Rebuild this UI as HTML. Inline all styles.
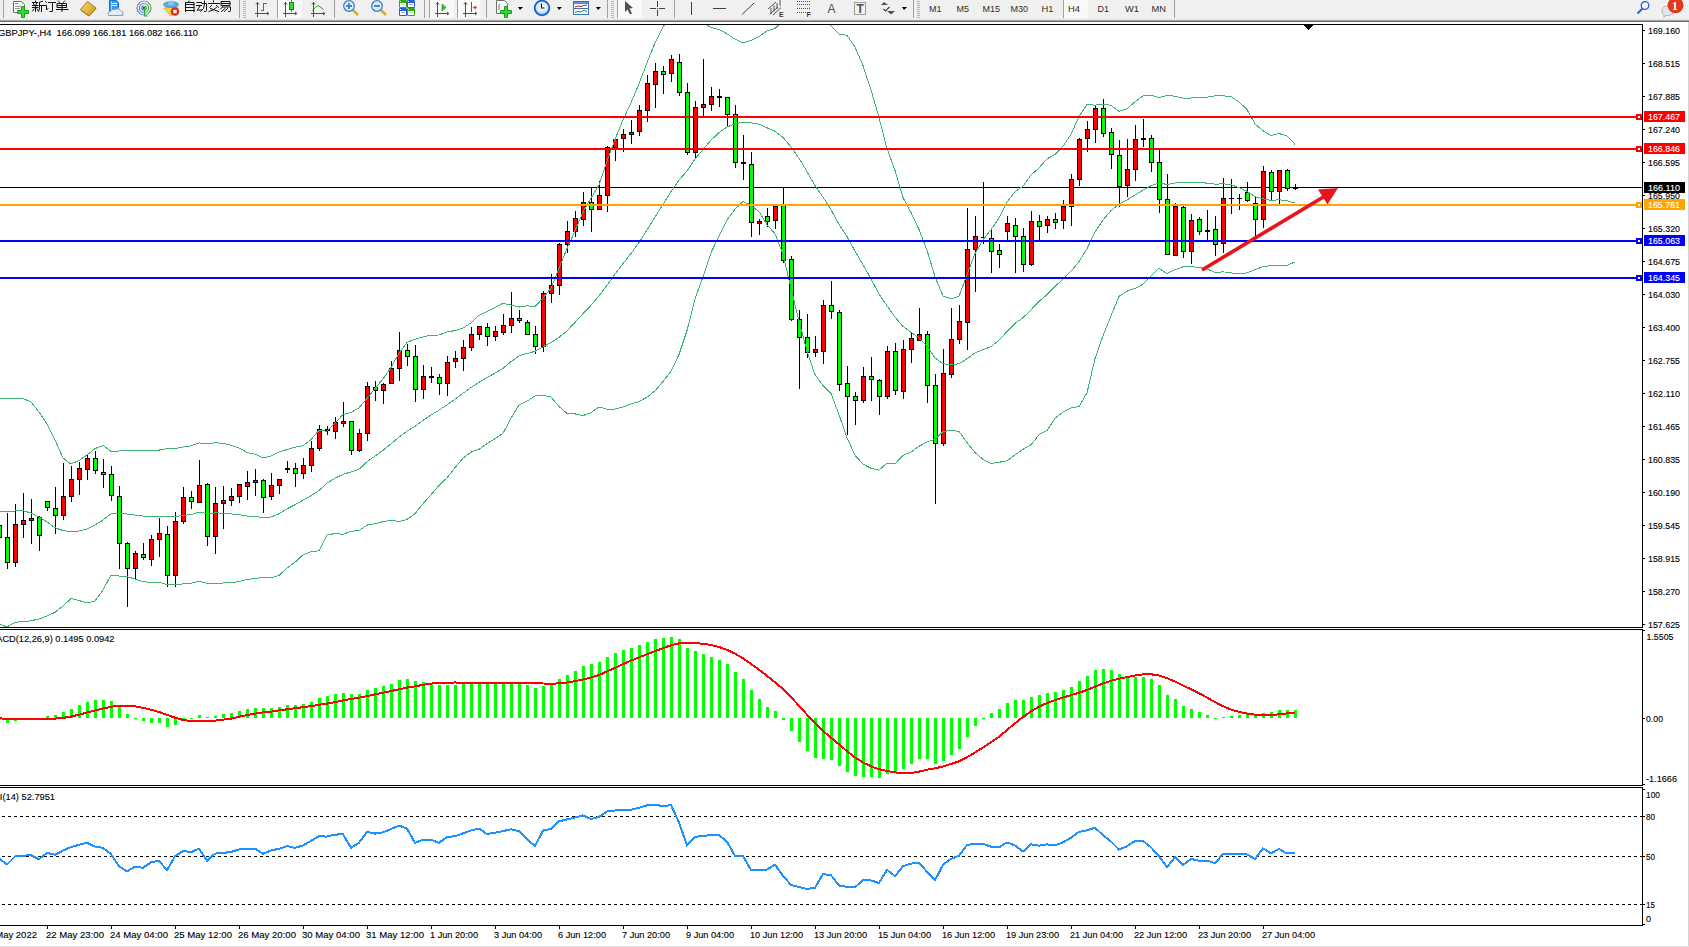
<!DOCTYPE html>
<html><head><meta charset="utf-8"><style>
html,body{margin:0;padding:0;width:1689px;height:947px;overflow:hidden;background:#fff;font-family:"Liberation Sans",sans-serif}
</style></head><body>
<svg width="1689" height="22" style="position:absolute;left:0;top:0" font-family='"Liberation Sans", sans-serif'><rect x="0" y="0" width="1689" height="19" fill="#F0F0F0"/><rect x="0" y="19" width="1689" height="1" fill="#E4E4E4"/><rect x="0" y="20" width="1689" height="1" fill="#A8A8A8"/><rect x="0" y="21" width="1689" height="1" fill="#6E6E6E"/><rect x="3" y="0" width="1" height="18" fill="#A0A0A0"/><path d="M13.5,1.5 h8 l3,3 v8 h-11 z" fill="#FAFAFA" stroke="#6E6E6E" stroke-width="1"/><rect x="15" y="3" width="3" height="1" fill="#888"/><rect x="15" y="6" width="6" height="1" fill="#999"/><rect x="15" y="8" width="5" height="1" fill="#999"/><path d="M21.5,6.5 h3 v4 h4 v3 h-4 v4 h-3 v-4 h-4 v-3 h4 z" fill="#2BE02B" stroke="#139013" stroke-width="0.9"/><g stroke="#111" stroke-width="1" fill="none" stroke-linecap="square"><path d="M35.5,1 v1 M32.5,2.5 h5 M33.5,3.5 l0.6,1.2 M36.6,3.5 l-0.6,1.2 M32.5,5.5 h5.5 M32.5,7.5 h5.5 M35.5,5.5 v6 M34,9 l-1.5,2 M37,9 l1,1.5"/><path d="M42.5,1.3 l-3,1 M39.5,2.5 v5 q0,3 -1,4 M39.5,5.5 h4 M41.5,5.5 v6"/><path d="M45.5,1.5 l1,1 M44.5,5.5 h2 v4.5 l1.5,-1.5 M48.5,2.5 h7 M52.5,2.5 v8.5 q0,0.5 -0.5,0.5 h-2"/><path d="M58.5,1 l1,1.3 M64.5,1 l-1,1.3 M57.5,3.5 h9 v4 h-9 z M57.5,5.5 h9 M62,3.5 v8 M56.5,9.5 h11.5"/></g><defs><linearGradient id="gld" x1="0" y1="0" x2="1" y2="1"><stop offset="0" stop-color="#F6DC6A"/><stop offset="1" stop-color="#C89A1C"/></linearGradient></defs><path d="M80.5,9.5 l7,-8 l8.5,6.5 l-7,8 z" fill="url(#gld)" stroke="#9A6A12" stroke-width="0.9"/><path d="M81.5,11 l7.5,5 l7,-7.5" fill="none" stroke="#B07818" stroke-width="1"/><path d="M109.5,0.5 h7 l2,2 v9 h-9 z" fill="#3C9BEA" stroke="#1E6FC0" stroke-width="1"/><rect x="112" y="3" width="5" height="1" fill="#E8F4FF"/><rect x="112" y="5" width="5" height="1" fill="#E8F4FF"/><rect x="111" y="1" width="1" height="9" fill="#9ED0FF"/><path d="M108.5,15.5 q-2,-3.5 2,-4 q1,-3 4.5,-2 q3,-2.5 5.5,1 q3,0.5 2.5,5 z" fill="#E6ECF4" stroke="#7E94B4" stroke-width="0.9"/><defs><linearGradient id="rad" x1="0" y1="0" x2="1" y2="0"><stop offset="0" stop-color="#4A7CD0"/><stop offset="0.55" stop-color="#8CB4E0"/><stop offset="1" stop-color="#3AA03A"/></linearGradient></defs><g fill="none" stroke="url(#rad)" stroke-width="1.1"><circle cx="144" cy="8" r="7"/><circle cx="144" cy="8" r="4.6"/><circle cx="144" cy="8" r="2.3"/></g><circle cx="144" cy="8" r="1.5" fill="#2456B0"/><path d="M144.5,8 v8 h3" stroke="#2EA82E" stroke-width="1.2" fill="none"/><path d="M164,8 l7,8 l5,-3 l2,-6 z" fill="#F2D64A" stroke="#C9A820" stroke-width="0.8"/><ellipse cx="171" cy="4.5" rx="7.5" ry="2.8" fill="#5BB0E0" stroke="#3A88C0" stroke-width="0.8"/><ellipse cx="171" cy="3" rx="3" ry="2.6" fill="#7CC8F0"/><circle cx="175" cy="11.5" r="4.3" fill="#E02A1A"/><rect x="173.3" y="9.8" width="3.4" height="3.4" fill="#fff"/><g stroke="#111" stroke-width="1" fill="none" stroke-linecap="square"><path d="M189,1 l-0.5,1 M185.5,2.5 h8.5 v9 M185.5,2.5 v9 M185.5,4.5 h8.5 M185.5,7.5 h8.5 M185.5,10.5 h8.5"/><path d="M197,2.5 h4.5 M196.5,5.5 h5 M200,6 l-2.8,4.3 l4,-0.5 M202,3.5 h4.5 v7 q0,1 -1,1 h-1 M204.5,1 v3 q0,5 -3.5,7.5"/><path d="M213.5,0.8 v1.2 M208.5,3.5 h11 M211.5,5.5 l-1.8,1.8 M216.5,5.5 l2,1.8 M210.5,8.5 l8,3 M216.5,7.5 q-3,3 -7.5,4"/><path d="M221.5,1.5 h8.5 v4 h-8.5 z M221.5,3.5 h8.5 M222.5,7 h8 v3.5 q0,1 -1,1 h-1 M222.5,7 l-2,2 M225,8.5 l-3.5,3 M227.5,8.5 l-3,3"/></g><rect x="239" y="0" width="1" height="18" fill="#A0A0A0"/><rect x="243" y="1" width="3" height="1" fill="#B4B4B4"/><rect x="243" y="3" width="3" height="1" fill="#B4B4B4"/><rect x="243" y="5" width="3" height="1" fill="#B4B4B4"/><rect x="243" y="7" width="3" height="1" fill="#B4B4B4"/><rect x="243" y="9" width="3" height="1" fill="#B4B4B4"/><rect x="243" y="11" width="3" height="1" fill="#B4B4B4"/><rect x="243" y="13" width="3" height="1" fill="#B4B4B4"/><rect x="243" y="15" width="3" height="1" fill="#B4B4B4"/><rect x="243" y="17" width="3" height="1" fill="#B4B4B4"/><path d="M257.5,2 v15 M255,13.5 h13" stroke="#505050" stroke-width="1" fill="none" shape-rendering="crispEdges"/><path d="M256,4.5 l1.5,-2 l1.5,2 M267,12 l2,1.5 l-2,1.5" stroke="#505050" stroke-width="1" fill="none"/><path d="M263.5,3 v8 M263.5,3.5 h3 M260.5,10.5 h3" stroke="#1E9A1E" stroke-width="1.1" fill="none" shape-rendering="crispEdges"/><rect x="277" y="0" width="1" height="18" fill="#A0A0A0"/><rect x="278" y="0" width="24" height="18" fill="#F9F9F9"/><path d="M285.5,2 v15 M283,13.5 h13" stroke="#505050" stroke-width="1" fill="none" shape-rendering="crispEdges"/><path d="M284,4.5 l1.5,-2 l1.5,2 M295,12 l2,1.5 l-2,1.5" stroke="#505050" stroke-width="1" fill="none"/><rect x="291" y="0" width="1" height="12" fill="#1E9A1E"/><rect x="289.5" y="2.5" width="4" height="7" fill="#2EE02E" stroke="#128A12" stroke-width="1"/><path d="M313.5,2 v15 M311,13.5 h13" stroke="#505050" stroke-width="1" fill="none" shape-rendering="crispEdges"/><path d="M312,4.5 l1.5,-2 l1.5,2 M323,12 l2,1.5 l-2,1.5" stroke="#505050" stroke-width="1" fill="none"/><path d="M312,10.5 l3.5,-3 l2.5,-2 l3,2 l2.5,2" stroke="#2E9A2E" stroke-width="1" fill="none"/><rect x="334" y="0" width="1" height="18" fill="#A0A0A0"/><line x1="353" y1="10" x2="358" y2="15" stroke="#D4B22C" stroke-width="2.6"/><circle cx="349" cy="6" r="5.3" fill="#DDEEFF" stroke="#3A7AC8" stroke-width="1.3"/><rect x="346" y="5" width="6" height="2" fill="#4A88C0"/><rect x="348" y="3" width="2" height="6" fill="#4A88C0"/><line x1="381" y1="10" x2="386" y2="15" stroke="#D4B22C" stroke-width="2.6"/><circle cx="377" cy="6" r="5.3" fill="#DDEEFF" stroke="#3A7AC8" stroke-width="1.3"/><rect x="374" y="5" width="6" height="2" fill="#4A88C0"/><rect x="399" y="0" width="8" height="8" rx="1.2" fill="#3AA020"/><rect x="400" y="3" width="6" height="4" rx="0.5" fill="#FFFFFF"/><rect x="401" y="4" width="4" height="1" fill="#B8E0A0"/><rect x="400" y="1" width="1" height="1" fill="#E8F4E8"/><rect x="407" y="0" width="8" height="8" rx="1.2" fill="#2A5ED8"/><rect x="408" y="3" width="6" height="4" rx="0.5" fill="#FFFFFF"/><rect x="409" y="4" width="4" height="1" fill="#90B0F0"/><rect x="408" y="1" width="1" height="1" fill="#E8F4E8"/><rect x="399" y="8" width="8" height="8" rx="1.2" fill="#2A5ED8"/><rect x="400" y="11" width="6" height="4" rx="0.5" fill="#FFFFFF"/><rect x="401" y="12" width="4" height="1" fill="#90B0F0"/><rect x="400" y="9" width="1" height="1" fill="#E8F4E8"/><rect x="407" y="8" width="8" height="8" rx="1.2" fill="#3AA020"/><rect x="408" y="11" width="6" height="4" rx="0.5" fill="#FFFFFF"/><rect x="409" y="12" width="4" height="1" fill="#B8E0A0"/><rect x="408" y="9" width="1" height="1" fill="#E8F4E8"/><rect x="424" y="0" width="1" height="18" fill="#A0A0A0"/><rect x="429" y="0" width="1" height="18" fill="#A0A0A0"/><rect x="430" y="0" width="24" height="18" fill="#F9F9F9"/><path d="M437.5,2 v15 M435,13.5 h13" stroke="#505050" stroke-width="1" fill="none" shape-rendering="crispEdges"/><path d="M436,4.5 l1.5,-2 l1.5,2 M447,12 l2,1.5 l-2,1.5" stroke="#505050" stroke-width="1" fill="none"/><polygon points="442,4 446,7.5 442,11" fill="#2EC02E" stroke="#1A8A1A" stroke-width="0.6"/><rect x="457" y="0" width="1" height="18" fill="#A0A0A0"/><rect x="458" y="0" width="22" height="18" fill="#F9F9F9"/><path d="M465.5,2 v15 M463,13.5 h13" stroke="#505050" stroke-width="1" fill="none" shape-rendering="crispEdges"/><path d="M464,4.5 l1.5,-2 l1.5,2 M475,12 l2,1.5 l-2,1.5" stroke="#505050" stroke-width="1" fill="none"/><rect x="471" y="2" width="1" height="10" fill="#1A6AA0"/><polygon points="472.5,7.5 476,5.5 476,9.5" fill="#E04A10"/><rect x="474" y="7" width="3" height="1" fill="#E04A10"/><rect x="486" y="0" width="1" height="18" fill="#A0A0A0"/><path d="M496.5,0.5 h8 l3,3 v10 h-11 z" fill="#FAFAFA" stroke="#707070" stroke-width="1"/><path d="M500,4 q-1,0 -1,2 v4" stroke="#605030" stroke-width="0.8" fill="none"/><path d="M504.5,6.5 h3 v4 h4 v3 h-4 v4 h-3 v-4 h-4 v-3 h4 z" fill="#2BE02B" stroke="#139013" stroke-width="0.9"/><polygon points="518,7 523,7 520,10" fill="#000"/><defs><radialGradient id="clk" cx="0.5" cy="0.4" r="0.6"><stop offset="0" stop-color="#F4FAFF"/><stop offset="0.6" stop-color="#DDEBFA"/><stop offset="1" stop-color="#6FA8E8"/></radialGradient></defs><circle cx="542" cy="8" r="7.3" fill="url(#clk)" stroke="#1560C8" stroke-width="1.8"/><path d="M541.5,3.5 v4.5 h3" stroke="#222" stroke-width="1.2" fill="none"/><polygon points="557,7 562,7 559,10" fill="#000"/><rect x="573.5" y="1.5" width="15" height="13" fill="#F8FBFF" stroke="#3A70C0" stroke-width="1"/><rect x="574" y="2" width="14" height="2" fill="#5A90D8"/><rect x="574" y="8" width="14" height="1" fill="#3A70C0"/><path d="M575,7 l3,-1 l3,0.5 l3,-1 l3,-0.5" stroke="#A03010" stroke-width="1" fill="none"/><path d="M575,12.5 l3,-1 l3,0.5 l3,-2 l3,2" stroke="#20A020" stroke-width="1" fill="none"/><polygon points="596,7 601,7 598,10" fill="#000"/><rect x="607" y="0" width="1" height="18" fill="#A0A0A0"/><rect x="611" y="1" width="3" height="1" fill="#B4B4B4"/><rect x="611" y="3" width="3" height="1" fill="#B4B4B4"/><rect x="611" y="5" width="3" height="1" fill="#B4B4B4"/><rect x="611" y="7" width="3" height="1" fill="#B4B4B4"/><rect x="611" y="9" width="3" height="1" fill="#B4B4B4"/><rect x="611" y="11" width="3" height="1" fill="#B4B4B4"/><rect x="611" y="13" width="3" height="1" fill="#B4B4B4"/><rect x="611" y="15" width="3" height="1" fill="#B4B4B4"/><rect x="611" y="17" width="3" height="1" fill="#B4B4B4"/><rect x="617" y="0" width="1" height="18" fill="#A0A0A0"/><rect x="618" y="0" width="24" height="18" fill="#F9F9F9"/><polygon points="625,1 625,12 627.5,9.5 630,14.5 632,13.5 629.5,8.5 633,8" fill="#505050"/><rect x="657" y="1" width="1" height="15" fill="#404040"/><rect x="650" y="8" width="15" height="1" fill="#404040"/><rect x="656" y="7" width="3" height="3" fill="#F0F0F0"/><rect x="657" y="8" width="1" height="1" fill="#404040"/><rect x="674" y="0" width="1" height="18" fill="#A0A0A0"/><rect x="691" y="2" width="1" height="13" fill="#404040"/><rect x="713" y="8" width="13" height="1" fill="#404040"/><line x1="742" y1="14.5" x2="754" y2="3" stroke="#404040" stroke-width="1"/><path d="M768,9 l8,-7 M770,14 l8,-7 M773,15 l8,-7.5 M771,8 v6 M774,5.5 v6 M777,3 v6 M780,0 v6" stroke="#404040" stroke-width="0.9" fill="none"/><text x="779" y="17" font-size="7" font-weight="bold" fill="#404040">E</text><line x1="797" y1="1.5" x2="810" y2="1.5" stroke="#505050" stroke-width="1" stroke-dasharray="1,1"/><line x1="797" y1="4.5" x2="810" y2="4.5" stroke="#505050" stroke-width="1" stroke-dasharray="1,1"/><line x1="797" y1="8.5" x2="810" y2="8.5" stroke="#505050" stroke-width="1" stroke-dasharray="1,1"/><line x1="797" y1="12.5" x2="810" y2="12.5" stroke="#505050" stroke-width="1" stroke-dasharray="1,1"/><text x="806.5" y="17" font-size="7" font-weight="bold" fill="#404040">F</text><text x="827.5" y="13" font-size="12" fill="#505050">A</text><rect x="854.5" y="2.5" width="11" height="12" fill="none" stroke="#505050" stroke-width="1" stroke-dasharray="1,1"/><text x="856.5" y="12.5" font-size="12" font-weight="bold" fill="#505050">T</text><polygon points="884,2 888,5 881,5" fill="#505050"/><polygon points="891,14.5 895,11 887,11" fill="#505050"/><path d="M883.5,9 l2,2 l4,-4" stroke="#404040" stroke-width="1.2" fill="none"/><polygon points="902,7 907,7 904,10" fill="#000"/><rect x="913" y="0" width="1" height="18" fill="#A0A0A0"/><rect x="917" y="1" width="3" height="1" fill="#B4B4B4"/><rect x="917" y="3" width="3" height="1" fill="#B4B4B4"/><rect x="917" y="5" width="3" height="1" fill="#B4B4B4"/><rect x="917" y="7" width="3" height="1" fill="#B4B4B4"/><rect x="917" y="9" width="3" height="1" fill="#B4B4B4"/><rect x="917" y="11" width="3" height="1" fill="#B4B4B4"/><rect x="917" y="13" width="3" height="1" fill="#B4B4B4"/><rect x="917" y="15" width="3" height="1" fill="#B4B4B4"/><rect x="917" y="17" width="3" height="1" fill="#B4B4B4"/><rect x="1063" y="0" width="1" height="18" fill="#A0A0A0"/><rect x="1064" y="0" width="24" height="18" fill="#F9F9F9"/><text x="929" y="12" font-size="9.6" fill="#2E2E2E" textLength="12.5" lengthAdjust="spacingAndGlyphs">M1</text><text x="956.5" y="12" font-size="9.6" fill="#2E2E2E" textLength="12.5" lengthAdjust="spacingAndGlyphs">M5</text><text x="982.5" y="12" font-size="9.6" fill="#2E2E2E" textLength="17.5" lengthAdjust="spacingAndGlyphs">M15</text><text x="1010.5" y="12" font-size="9.6" fill="#2E2E2E" textLength="17.5" lengthAdjust="spacingAndGlyphs">M30</text><text x="1041.5" y="12" font-size="9.6" fill="#2E2E2E" textLength="12" lengthAdjust="spacingAndGlyphs">H1</text><text x="1068" y="12" font-size="9.6" fill="#2E2E2E" textLength="12" lengthAdjust="spacingAndGlyphs">H4</text><text x="1097.5" y="12" font-size="9.6" fill="#2E2E2E" textLength="11.5" lengthAdjust="spacingAndGlyphs">D1</text><text x="1125" y="12" font-size="9.6" fill="#2E2E2E" textLength="14" lengthAdjust="spacingAndGlyphs">W1</text><text x="1151.5" y="12" font-size="9.6" fill="#2E2E2E" textLength="14.5" lengthAdjust="spacingAndGlyphs">MN</text><rect x="1174" y="0" width="1" height="18" fill="#A0A0A0"/><circle cx="1645" cy="5.5" r="3.8" fill="#F4F6FF" stroke="#2A62D0" stroke-width="1.3"/><line x1="1642.5" y1="8.5" x2="1637.5" y2="13.5" stroke="#2A62D0" stroke-width="2"/><path d="M1662,11 q0,-5 5.5,-5 q5.5,0 5.5,5 q0,4.5 -5.5,4.5 h-2 l-1.5,2 v-2.5 q-2,-1 -2,-4 z" fill="#E4E6EE" stroke="#A8A8A8" stroke-width="0.8"/><circle cx="1675.5" cy="5.3" r="8" fill="#E0381C"/><text x="1674.8" y="10" font-size="11.5" font-weight="bold" fill="#fff" text-anchor="middle" font-family='"Liberation Serif", serif'>1</text></svg><div style="position:absolute;left:1688px;top:22px;width:1px;height:925px;background:#D4D4D4"></div><div style="position:absolute;left:0;top:946px;width:1689px;height:1px;background:#E0E0E0"></div>
<svg width="1689" height="947" style="position:absolute;left:0;top:0" shape-rendering="crispEdges" font-family='"Liberation Sans", sans-serif'><defs><clipPath id="cm"><rect x="0" y="25" width="1642" height="602"/></clipPath><clipPath id="cd"><rect x="0" y="630" width="1642" height="155"/></clipPath><clipPath id="cr"><rect x="0" y="788" width="1642" height="137"/></clipPath></defs><rect x="0" y="24" width="1643" height="1" fill="#000"/><rect x="0" y="627" width="1643" height="1" fill="#000"/><rect x="0" y="629" width="1643" height="1" fill="#000"/><rect x="0" y="785" width="1643" height="1" fill="#000"/><rect x="0" y="787" width="1643" height="1" fill="#000"/><rect x="0" y="925" width="1643" height="1" fill="#000"/><rect x="1642" y="24" width="1" height="604" fill="#000"/><rect x="1642" y="629" width="1" height="157" fill="#000"/><rect x="1642" y="787" width="1" height="139" fill="#000"/><g clip-path="url(#cm)"><rect x="0" y="187" width="1642" height="1" fill="#000000"/><rect x="-1" y="519" width="1" height="27" fill="#000"/><rect x="-3" y="525" width="5" height="13" fill="#000"/><rect x="-2" y="526" width="3" height="11" fill="#00FF00"/><rect x="7" y="513" width="1" height="56" fill="#000"/><rect x="5" y="537" width="5" height="26" fill="#000"/><rect x="6" y="538" width="3" height="24" fill="#00FF00"/><rect x="15" y="504" width="1" height="63" fill="#000"/><rect x="13" y="524" width="5" height="39" fill="#000"/><rect x="14" y="525" width="3" height="37" fill="#FF0000"/><rect x="23" y="493" width="1" height="45" fill="#000"/><rect x="21" y="520" width="5" height="5" fill="#000"/><rect x="22" y="521" width="3" height="3" fill="#FF0000"/><rect x="31" y="499" width="1" height="45" fill="#000"/><rect x="29" y="518" width="5" height="3" fill="#000"/><rect x="30" y="519" width="3" height="1" fill="#FF0000"/><rect x="39" y="516" width="1" height="35" fill="#000"/><rect x="37" y="517" width="5" height="19" fill="#000"/><rect x="38" y="518" width="3" height="17" fill="#00FF00"/><rect x="47" y="501" width="1" height="10" fill="#000"/><rect x="45" y="501" width="5" height="7" fill="#000"/><rect x="46" y="502" width="3" height="5" fill="#00FF00"/><rect x="55" y="487" width="1" height="47" fill="#000"/><rect x="53" y="508" width="5" height="8" fill="#000"/><rect x="54" y="509" width="3" height="6" fill="#00FF00"/><rect x="63" y="463" width="1" height="57" fill="#000"/><rect x="61" y="496" width="5" height="20" fill="#000"/><rect x="62" y="497" width="3" height="18" fill="#FF0000"/><rect x="71" y="466" width="1" height="36" fill="#000"/><rect x="69" y="479" width="5" height="18" fill="#000"/><rect x="70" y="480" width="3" height="16" fill="#FF0000"/><rect x="79" y="462" width="1" height="33" fill="#000"/><rect x="77" y="468" width="5" height="12" fill="#000"/><rect x="78" y="469" width="3" height="10" fill="#FF0000"/><rect x="87" y="455" width="1" height="25" fill="#000"/><rect x="85" y="458" width="5" height="12" fill="#000"/><rect x="86" y="459" width="3" height="10" fill="#FF0000"/><rect x="95" y="451" width="1" height="23" fill="#000"/><rect x="93" y="458" width="5" height="13" fill="#000"/><rect x="94" y="459" width="3" height="11" fill="#00FF00"/><rect x="103" y="459" width="1" height="29" fill="#000"/><rect x="101" y="472" width="5" height="3" fill="#000"/><rect x="102" y="473" width="3" height="1" fill="#00FF00"/><rect x="111" y="466" width="1" height="35" fill="#000"/><rect x="109" y="474" width="5" height="22" fill="#000"/><rect x="110" y="475" width="3" height="20" fill="#00FF00"/><rect x="119" y="486" width="1" height="83" fill="#000"/><rect x="117" y="496" width="5" height="48" fill="#000"/><rect x="118" y="497" width="3" height="46" fill="#00FF00"/><rect x="127" y="542" width="1" height="65" fill="#000"/><rect x="125" y="543" width="5" height="26" fill="#000"/><rect x="126" y="544" width="3" height="24" fill="#00FF00"/><rect x="135" y="551" width="1" height="28" fill="#000"/><rect x="133" y="553" width="5" height="16" fill="#000"/><rect x="134" y="554" width="3" height="14" fill="#FF0000"/><rect x="143" y="543" width="1" height="17" fill="#000"/><rect x="141" y="554" width="5" height="4" fill="#000"/><rect x="142" y="555" width="3" height="2" fill="#00FF00"/><rect x="151" y="535" width="1" height="31" fill="#000"/><rect x="149" y="539" width="5" height="21" fill="#000"/><rect x="150" y="540" width="3" height="19" fill="#FF0000"/><rect x="159" y="518" width="1" height="39" fill="#000"/><rect x="157" y="533" width="5" height="7" fill="#000"/><rect x="158" y="534" width="3" height="5" fill="#FF0000"/><rect x="167" y="526" width="1" height="61" fill="#000"/><rect x="165" y="534" width="5" height="42" fill="#000"/><rect x="166" y="535" width="3" height="40" fill="#00FF00"/><rect x="175" y="512" width="1" height="75" fill="#000"/><rect x="173" y="521" width="5" height="55" fill="#000"/><rect x="174" y="522" width="3" height="53" fill="#FF0000"/><rect x="183" y="487" width="1" height="37" fill="#000"/><rect x="181" y="497" width="5" height="25" fill="#000"/><rect x="182" y="498" width="3" height="23" fill="#FF0000"/><rect x="191" y="491" width="1" height="18" fill="#000"/><rect x="189" y="497" width="5" height="5" fill="#000"/><rect x="190" y="498" width="3" height="3" fill="#00FF00"/><rect x="199" y="460" width="1" height="43" fill="#000"/><rect x="197" y="485" width="5" height="18" fill="#000"/><rect x="198" y="486" width="3" height="16" fill="#FF0000"/><rect x="207" y="483" width="1" height="63" fill="#000"/><rect x="205" y="484" width="5" height="53" fill="#000"/><rect x="206" y="485" width="3" height="51" fill="#00FF00"/><rect x="215" y="487" width="1" height="67" fill="#000"/><rect x="213" y="503" width="5" height="34" fill="#000"/><rect x="214" y="504" width="3" height="32" fill="#FF0000"/><rect x="223" y="486" width="1" height="43" fill="#000"/><rect x="221" y="500" width="5" height="4" fill="#000"/><rect x="222" y="501" width="3" height="2" fill="#FF0000"/><rect x="231" y="488" width="1" height="18" fill="#000"/><rect x="229" y="496" width="5" height="5" fill="#000"/><rect x="230" y="497" width="3" height="3" fill="#FF0000"/><rect x="239" y="484" width="1" height="19" fill="#000"/><rect x="237" y="484" width="5" height="13" fill="#000"/><rect x="238" y="485" width="3" height="11" fill="#FF0000"/><rect x="247" y="471" width="1" height="29" fill="#000"/><rect x="245" y="482" width="5" height="5" fill="#000"/><rect x="246" y="483" width="3" height="3" fill="#FF0000"/><rect x="255" y="469" width="1" height="27" fill="#000"/><rect x="253" y="480" width="5" height="3" fill="#000"/><rect x="254" y="481" width="3" height="1" fill="#FF0000"/><rect x="263" y="479" width="1" height="34" fill="#000"/><rect x="261" y="480" width="5" height="18" fill="#000"/><rect x="262" y="481" width="3" height="16" fill="#00FF00"/><rect x="271" y="473" width="1" height="27" fill="#000"/><rect x="269" y="485" width="5" height="12" fill="#000"/><rect x="270" y="486" width="3" height="10" fill="#FF0000"/><rect x="279" y="479" width="1" height="15" fill="#000"/><rect x="277" y="479" width="5" height="7" fill="#000"/><rect x="278" y="480" width="3" height="5" fill="#FF0000"/><rect x="287" y="461" width="1" height="12" fill="#000"/><rect x="285" y="468" width="5" height="2" fill="#000"/><rect x="295" y="463" width="1" height="24" fill="#000"/><rect x="293" y="468" width="5" height="6" fill="#000"/><rect x="294" y="469" width="3" height="4" fill="#00FF00"/><rect x="303" y="458" width="1" height="21" fill="#000"/><rect x="301" y="465" width="5" height="9" fill="#000"/><rect x="302" y="466" width="3" height="7" fill="#FF0000"/><rect x="311" y="441" width="1" height="31" fill="#000"/><rect x="309" y="448" width="5" height="18" fill="#000"/><rect x="310" y="449" width="3" height="16" fill="#FF0000"/><rect x="319" y="425" width="1" height="26" fill="#000"/><rect x="317" y="429" width="5" height="20" fill="#000"/><rect x="318" y="430" width="3" height="18" fill="#FF0000"/><rect x="327" y="426" width="1" height="9" fill="#000"/><rect x="325" y="429" width="5" height="2" fill="#000"/><rect x="335" y="417" width="1" height="22" fill="#000"/><rect x="333" y="422" width="5" height="10" fill="#000"/><rect x="334" y="423" width="3" height="8" fill="#FF0000"/><rect x="343" y="402" width="1" height="25" fill="#000"/><rect x="341" y="421" width="5" height="3" fill="#000"/><rect x="342" y="422" width="3" height="1" fill="#FF0000"/><rect x="351" y="421" width="1" height="34" fill="#000"/><rect x="349" y="421" width="5" height="30" fill="#000"/><rect x="350" y="422" width="3" height="28" fill="#00FF00"/><rect x="359" y="429" width="1" height="23" fill="#000"/><rect x="357" y="433" width="5" height="18" fill="#000"/><rect x="358" y="434" width="3" height="16" fill="#FF0000"/><rect x="367" y="382" width="1" height="59" fill="#000"/><rect x="365" y="386" width="5" height="48" fill="#000"/><rect x="366" y="387" width="3" height="46" fill="#FF0000"/><rect x="375" y="381" width="1" height="20" fill="#000"/><rect x="373" y="387" width="5" height="4" fill="#000"/><rect x="374" y="388" width="3" height="2" fill="#00FF00"/><rect x="383" y="383" width="1" height="21" fill="#000"/><rect x="381" y="384" width="5" height="7" fill="#000"/><rect x="382" y="385" width="3" height="5" fill="#FF0000"/><rect x="391" y="361" width="1" height="23" fill="#000"/><rect x="389" y="368" width="5" height="16" fill="#000"/><rect x="390" y="369" width="3" height="14" fill="#FF0000"/><rect x="399" y="332" width="1" height="49" fill="#000"/><rect x="397" y="350" width="5" height="19" fill="#000"/><rect x="398" y="351" width="3" height="17" fill="#FF0000"/><rect x="407" y="344" width="1" height="22" fill="#000"/><rect x="405" y="350" width="5" height="7" fill="#000"/><rect x="406" y="351" width="3" height="5" fill="#00FF00"/><rect x="415" y="345" width="1" height="57" fill="#000"/><rect x="413" y="356" width="5" height="34" fill="#000"/><rect x="414" y="357" width="3" height="32" fill="#00FF00"/><rect x="423" y="365" width="1" height="34" fill="#000"/><rect x="421" y="376" width="5" height="14" fill="#000"/><rect x="422" y="377" width="3" height="12" fill="#FF0000"/><rect x="431" y="367" width="1" height="16" fill="#000"/><rect x="429" y="376" width="5" height="2" fill="#000"/><rect x="439" y="374" width="1" height="21" fill="#000"/><rect x="437" y="377" width="5" height="7" fill="#000"/><rect x="438" y="378" width="3" height="5" fill="#00FF00"/><rect x="447" y="356" width="1" height="40" fill="#000"/><rect x="445" y="362" width="5" height="22" fill="#000"/><rect x="446" y="363" width="3" height="20" fill="#FF0000"/><rect x="455" y="351" width="1" height="17" fill="#000"/><rect x="453" y="358" width="5" height="4" fill="#000"/><rect x="454" y="359" width="3" height="2" fill="#FF0000"/><rect x="463" y="340" width="1" height="31" fill="#000"/><rect x="461" y="347" width="5" height="12" fill="#000"/><rect x="462" y="348" width="3" height="10" fill="#FF0000"/><rect x="471" y="327" width="1" height="24" fill="#000"/><rect x="469" y="334" width="5" height="14" fill="#000"/><rect x="470" y="335" width="3" height="12" fill="#FF0000"/><rect x="479" y="326" width="1" height="14" fill="#000"/><rect x="477" y="326" width="5" height="9" fill="#000"/><rect x="478" y="327" width="3" height="7" fill="#FF0000"/><rect x="487" y="323" width="1" height="23" fill="#000"/><rect x="485" y="327" width="5" height="10" fill="#000"/><rect x="486" y="328" width="3" height="8" fill="#00FF00"/><rect x="495" y="326" width="1" height="15" fill="#000"/><rect x="493" y="331" width="5" height="6" fill="#000"/><rect x="494" y="332" width="3" height="4" fill="#FF0000"/><rect x="503" y="314" width="1" height="21" fill="#000"/><rect x="501" y="325" width="5" height="8" fill="#000"/><rect x="502" y="326" width="3" height="6" fill="#FF0000"/><rect x="511" y="292" width="1" height="41" fill="#000"/><rect x="509" y="318" width="5" height="8" fill="#000"/><rect x="510" y="319" width="3" height="6" fill="#FF0000"/><rect x="519" y="310" width="1" height="13" fill="#000"/><rect x="517" y="318" width="5" height="3" fill="#000"/><rect x="518" y="319" width="3" height="1" fill="#00FF00"/><rect x="527" y="320" width="1" height="15" fill="#000"/><rect x="525" y="322" width="5" height="13" fill="#000"/><rect x="526" y="323" width="3" height="11" fill="#00FF00"/><rect x="535" y="326" width="1" height="28" fill="#000"/><rect x="533" y="334" width="5" height="13" fill="#000"/><rect x="534" y="335" width="3" height="11" fill="#00FF00"/><rect x="543" y="291" width="1" height="61" fill="#000"/><rect x="541" y="293" width="5" height="54" fill="#000"/><rect x="542" y="294" width="3" height="52" fill="#FF0000"/><rect x="551" y="274" width="1" height="29" fill="#000"/><rect x="549" y="285" width="5" height="9" fill="#000"/><rect x="550" y="286" width="3" height="7" fill="#FF0000"/><rect x="559" y="243" width="1" height="52" fill="#000"/><rect x="557" y="244" width="5" height="42" fill="#000"/><rect x="558" y="245" width="3" height="40" fill="#FF0000"/><rect x="567" y="221" width="1" height="32" fill="#000"/><rect x="565" y="231" width="5" height="14" fill="#000"/><rect x="566" y="232" width="3" height="12" fill="#FF0000"/><rect x="575" y="211" width="1" height="26" fill="#000"/><rect x="573" y="218" width="5" height="14" fill="#000"/><rect x="574" y="219" width="3" height="12" fill="#FF0000"/><rect x="583" y="192" width="1" height="34" fill="#000"/><rect x="581" y="202" width="5" height="18" fill="#000"/><rect x="582" y="203" width="3" height="16" fill="#FF0000"/><rect x="591" y="188" width="1" height="44" fill="#000"/><rect x="589" y="202" width="5" height="8" fill="#000"/><rect x="590" y="203" width="3" height="6" fill="#00FF00"/><rect x="599" y="181" width="1" height="29" fill="#000"/><rect x="597" y="195" width="5" height="15" fill="#000"/><rect x="598" y="196" width="3" height="13" fill="#FF0000"/><rect x="607" y="146" width="1" height="66" fill="#000"/><rect x="605" y="147" width="5" height="49" fill="#000"/><rect x="606" y="148" width="3" height="47" fill="#FF0000"/><rect x="615" y="139" width="1" height="22" fill="#000"/><rect x="613" y="139" width="5" height="9" fill="#000"/><rect x="614" y="140" width="3" height="7" fill="#FF0000"/><rect x="623" y="129" width="1" height="23" fill="#000"/><rect x="621" y="134" width="5" height="5" fill="#000"/><rect x="622" y="135" width="3" height="3" fill="#FF0000"/><rect x="631" y="120" width="1" height="24" fill="#000"/><rect x="629" y="132" width="5" height="3" fill="#000"/><rect x="630" y="133" width="3" height="1" fill="#FF0000"/><rect x="639" y="105" width="1" height="31" fill="#000"/><rect x="637" y="110" width="5" height="22" fill="#000"/><rect x="638" y="111" width="3" height="20" fill="#FF0000"/><rect x="647" y="75" width="1" height="47" fill="#000"/><rect x="645" y="83" width="5" height="28" fill="#000"/><rect x="646" y="84" width="3" height="26" fill="#FF0000"/><rect x="655" y="63" width="1" height="45" fill="#000"/><rect x="653" y="71" width="5" height="14" fill="#000"/><rect x="654" y="72" width="3" height="12" fill="#FF0000"/><rect x="663" y="66" width="1" height="28" fill="#000"/><rect x="661" y="71" width="5" height="4" fill="#000"/><rect x="662" y="72" width="3" height="2" fill="#00FF00"/><rect x="671" y="55" width="1" height="27" fill="#000"/><rect x="669" y="59" width="5" height="15" fill="#000"/><rect x="670" y="60" width="3" height="13" fill="#FF0000"/><rect x="679" y="54" width="1" height="42" fill="#000"/><rect x="677" y="62" width="5" height="31" fill="#000"/><rect x="678" y="63" width="3" height="29" fill="#00FF00"/><rect x="687" y="83" width="1" height="72" fill="#000"/><rect x="685" y="92" width="5" height="61" fill="#000"/><rect x="686" y="93" width="3" height="59" fill="#00FF00"/><rect x="695" y="101" width="1" height="58" fill="#000"/><rect x="693" y="107" width="5" height="46" fill="#000"/><rect x="694" y="108" width="3" height="44" fill="#FF0000"/><rect x="703" y="59" width="1" height="57" fill="#000"/><rect x="701" y="104" width="5" height="4" fill="#000"/><rect x="702" y="105" width="3" height="2" fill="#FF0000"/><rect x="711" y="87" width="1" height="24" fill="#000"/><rect x="709" y="96" width="5" height="9" fill="#000"/><rect x="710" y="97" width="3" height="7" fill="#FF0000"/><rect x="719" y="89" width="1" height="18" fill="#000"/><rect x="717" y="96" width="5" height="2" fill="#000"/><rect x="727" y="97" width="1" height="29" fill="#000"/><rect x="725" y="97" width="5" height="18" fill="#000"/><rect x="726" y="98" width="3" height="16" fill="#00FF00"/><rect x="735" y="105" width="1" height="63" fill="#000"/><rect x="733" y="114" width="5" height="49" fill="#000"/><rect x="734" y="115" width="3" height="47" fill="#00FF00"/><rect x="743" y="135" width="1" height="45" fill="#000"/><rect x="741" y="162" width="5" height="2" fill="#000"/><rect x="751" y="152" width="1" height="85" fill="#000"/><rect x="749" y="164" width="5" height="59" fill="#000"/><rect x="750" y="165" width="3" height="57" fill="#00FF00"/><rect x="759" y="219" width="1" height="16" fill="#000"/><rect x="757" y="221" width="5" height="3" fill="#000"/><rect x="758" y="222" width="3" height="1" fill="#FF0000"/><rect x="767" y="208" width="1" height="19" fill="#000"/><rect x="765" y="216" width="5" height="6" fill="#000"/><rect x="766" y="217" width="3" height="4" fill="#00FF00"/><rect x="775" y="206" width="1" height="23" fill="#000"/><rect x="773" y="206" width="5" height="15" fill="#000"/><rect x="774" y="207" width="3" height="13" fill="#FF0000"/><rect x="783" y="188" width="1" height="75" fill="#000"/><rect x="781" y="205" width="5" height="56" fill="#000"/><rect x="782" y="206" width="3" height="54" fill="#00FF00"/><rect x="791" y="256" width="1" height="65" fill="#000"/><rect x="789" y="259" width="5" height="61" fill="#000"/><rect x="790" y="260" width="3" height="59" fill="#00FF00"/><rect x="799" y="310" width="1" height="79" fill="#000"/><rect x="797" y="319" width="5" height="19" fill="#000"/><rect x="798" y="320" width="3" height="17" fill="#00FF00"/><rect x="807" y="314" width="1" height="44" fill="#000"/><rect x="805" y="337" width="5" height="16" fill="#000"/><rect x="806" y="338" width="3" height="14" fill="#00FF00"/><rect x="815" y="336" width="1" height="21" fill="#000"/><rect x="813" y="349" width="5" height="4" fill="#000"/><rect x="814" y="350" width="3" height="2" fill="#FF0000"/><rect x="823" y="300" width="1" height="64" fill="#000"/><rect x="821" y="305" width="5" height="47" fill="#000"/><rect x="822" y="306" width="3" height="45" fill="#FF0000"/><rect x="831" y="281" width="1" height="38" fill="#000"/><rect x="829" y="305" width="5" height="7" fill="#000"/><rect x="830" y="306" width="3" height="5" fill="#00FF00"/><rect x="839" y="310" width="1" height="81" fill="#000"/><rect x="837" y="312" width="5" height="73" fill="#000"/><rect x="838" y="313" width="3" height="71" fill="#00FF00"/><rect x="847" y="366" width="1" height="69" fill="#000"/><rect x="845" y="383" width="5" height="14" fill="#000"/><rect x="846" y="384" width="3" height="12" fill="#00FF00"/><rect x="855" y="392" width="1" height="33" fill="#000"/><rect x="853" y="396" width="5" height="5" fill="#000"/><rect x="854" y="397" width="3" height="3" fill="#00FF00"/><rect x="863" y="367" width="1" height="36" fill="#000"/><rect x="861" y="376" width="5" height="25" fill="#000"/><rect x="862" y="377" width="3" height="23" fill="#FF0000"/><rect x="871" y="357" width="1" height="44" fill="#000"/><rect x="869" y="376" width="5" height="4" fill="#000"/><rect x="870" y="377" width="3" height="2" fill="#00FF00"/><rect x="879" y="379" width="1" height="36" fill="#000"/><rect x="877" y="380" width="5" height="17" fill="#000"/><rect x="878" y="381" width="3" height="15" fill="#00FF00"/><rect x="887" y="346" width="1" height="53" fill="#000"/><rect x="885" y="351" width="5" height="46" fill="#000"/><rect x="886" y="352" width="3" height="44" fill="#FF0000"/><rect x="895" y="343" width="1" height="52" fill="#000"/><rect x="893" y="351" width="5" height="40" fill="#000"/><rect x="894" y="352" width="3" height="38" fill="#00FF00"/><rect x="903" y="340" width="1" height="59" fill="#000"/><rect x="901" y="349" width="5" height="43" fill="#000"/><rect x="902" y="350" width="3" height="41" fill="#FF0000"/><rect x="911" y="333" width="1" height="30" fill="#000"/><rect x="909" y="338" width="5" height="12" fill="#000"/><rect x="910" y="339" width="3" height="10" fill="#FF0000"/><rect x="919" y="308" width="1" height="33" fill="#000"/><rect x="917" y="334" width="5" height="7" fill="#000"/><rect x="918" y="335" width="3" height="5" fill="#FF0000"/><rect x="927" y="331" width="1" height="72" fill="#000"/><rect x="925" y="334" width="5" height="52" fill="#000"/><rect x="926" y="335" width="3" height="50" fill="#00FF00"/><rect x="935" y="374" width="1" height="130" fill="#000"/><rect x="933" y="385" width="5" height="59" fill="#000"/><rect x="934" y="386" width="3" height="57" fill="#00FF00"/><rect x="943" y="349" width="1" height="97" fill="#000"/><rect x="941" y="373" width="5" height="71" fill="#000"/><rect x="942" y="374" width="3" height="69" fill="#FF0000"/><rect x="951" y="308" width="1" height="70" fill="#000"/><rect x="949" y="339" width="5" height="36" fill="#000"/><rect x="950" y="340" width="3" height="34" fill="#FF0000"/><rect x="959" y="305" width="1" height="39" fill="#000"/><rect x="957" y="321" width="5" height="19" fill="#000"/><rect x="958" y="322" width="3" height="17" fill="#FF0000"/><rect x="967" y="208" width="1" height="142" fill="#000"/><rect x="965" y="249" width="5" height="74" fill="#000"/><rect x="966" y="250" width="3" height="72" fill="#FF0000"/><rect x="975" y="216" width="1" height="76" fill="#000"/><rect x="973" y="236" width="5" height="14" fill="#000"/><rect x="974" y="237" width="3" height="12" fill="#FF0000"/><rect x="983" y="182" width="1" height="62" fill="#000"/><rect x="981" y="237" width="5" height="1" fill="#000"/><rect x="991" y="230" width="1" height="43" fill="#000"/><rect x="989" y="238" width="5" height="14" fill="#000"/><rect x="990" y="239" width="3" height="12" fill="#00FF00"/><rect x="999" y="244" width="1" height="24" fill="#000"/><rect x="997" y="250" width="5" height="5" fill="#000"/><rect x="998" y="251" width="3" height="3" fill="#00FF00"/><rect x="1007" y="216" width="1" height="24" fill="#000"/><rect x="1005" y="223" width="5" height="9" fill="#000"/><rect x="1006" y="224" width="3" height="7" fill="#FF0000"/><rect x="1015" y="218" width="1" height="55" fill="#000"/><rect x="1013" y="225" width="5" height="12" fill="#000"/><rect x="1014" y="226" width="3" height="10" fill="#00FF00"/><rect x="1023" y="228" width="1" height="44" fill="#000"/><rect x="1021" y="236" width="5" height="29" fill="#000"/><rect x="1022" y="237" width="3" height="27" fill="#00FF00"/><rect x="1031" y="211" width="1" height="55" fill="#000"/><rect x="1029" y="221" width="5" height="44" fill="#000"/><rect x="1030" y="222" width="3" height="42" fill="#FF0000"/><rect x="1039" y="215" width="1" height="26" fill="#000"/><rect x="1037" y="221" width="5" height="6" fill="#000"/><rect x="1038" y="222" width="3" height="4" fill="#00FF00"/><rect x="1047" y="216" width="1" height="17" fill="#000"/><rect x="1045" y="219" width="5" height="7" fill="#000"/><rect x="1046" y="220" width="3" height="5" fill="#FF0000"/><rect x="1055" y="213" width="1" height="16" fill="#000"/><rect x="1053" y="219" width="5" height="4" fill="#000"/><rect x="1054" y="220" width="3" height="2" fill="#00FF00"/><rect x="1063" y="200" width="1" height="29" fill="#000"/><rect x="1061" y="206" width="5" height="15" fill="#000"/><rect x="1062" y="207" width="3" height="13" fill="#FF0000"/><rect x="1071" y="174" width="1" height="52" fill="#000"/><rect x="1069" y="179" width="5" height="28" fill="#000"/><rect x="1070" y="180" width="3" height="26" fill="#FF0000"/><rect x="1079" y="138" width="1" height="48" fill="#000"/><rect x="1077" y="139" width="5" height="41" fill="#000"/><rect x="1078" y="140" width="3" height="39" fill="#FF0000"/><rect x="1087" y="121" width="1" height="31" fill="#000"/><rect x="1085" y="129" width="5" height="10" fill="#000"/><rect x="1086" y="130" width="3" height="8" fill="#FF0000"/><rect x="1095" y="106" width="1" height="37" fill="#000"/><rect x="1093" y="108" width="5" height="22" fill="#000"/><rect x="1094" y="109" width="3" height="20" fill="#FF0000"/><rect x="1103" y="99" width="1" height="38" fill="#000"/><rect x="1101" y="108" width="5" height="26" fill="#000"/><rect x="1102" y="109" width="3" height="24" fill="#00FF00"/><rect x="1111" y="128" width="1" height="41" fill="#000"/><rect x="1109" y="132" width="5" height="23" fill="#000"/><rect x="1110" y="133" width="3" height="21" fill="#00FF00"/><rect x="1119" y="140" width="1" height="67" fill="#000"/><rect x="1117" y="155" width="5" height="32" fill="#000"/><rect x="1118" y="156" width="3" height="30" fill="#00FF00"/><rect x="1127" y="139" width="1" height="58" fill="#000"/><rect x="1125" y="169" width="5" height="17" fill="#000"/><rect x="1126" y="170" width="3" height="15" fill="#FF0000"/><rect x="1135" y="125" width="1" height="56" fill="#000"/><rect x="1133" y="139" width="5" height="31" fill="#000"/><rect x="1134" y="140" width="3" height="29" fill="#FF0000"/><rect x="1143" y="119" width="1" height="28" fill="#000"/><rect x="1141" y="138" width="5" height="2" fill="#000"/><rect x="1151" y="135" width="1" height="37" fill="#000"/><rect x="1149" y="138" width="5" height="25" fill="#000"/><rect x="1150" y="139" width="3" height="23" fill="#00FF00"/><rect x="1159" y="150" width="1" height="63" fill="#000"/><rect x="1157" y="162" width="5" height="38" fill="#000"/><rect x="1158" y="163" width="3" height="36" fill="#00FF00"/><rect x="1167" y="174" width="1" height="81" fill="#000"/><rect x="1165" y="199" width="5" height="56" fill="#000"/><rect x="1166" y="200" width="3" height="54" fill="#00FF00"/><rect x="1175" y="203" width="1" height="53" fill="#000"/><rect x="1173" y="206" width="5" height="50" fill="#000"/><rect x="1174" y="207" width="3" height="48" fill="#FF0000"/><rect x="1183" y="206" width="1" height="52" fill="#000"/><rect x="1181" y="207" width="5" height="45" fill="#000"/><rect x="1182" y="208" width="3" height="43" fill="#00FF00"/><rect x="1191" y="214" width="1" height="50" fill="#000"/><rect x="1189" y="220" width="5" height="32" fill="#000"/><rect x="1190" y="221" width="3" height="30" fill="#FF0000"/><rect x="1199" y="217" width="1" height="18" fill="#000"/><rect x="1197" y="219" width="5" height="13" fill="#000"/><rect x="1198" y="220" width="3" height="11" fill="#00FF00"/><rect x="1207" y="210" width="1" height="30" fill="#000"/><rect x="1205" y="230" width="5" height="2" fill="#000"/><rect x="1215" y="216" width="1" height="40" fill="#000"/><rect x="1213" y="229" width="5" height="16" fill="#000"/><rect x="1214" y="230" width="3" height="14" fill="#00FF00"/><rect x="1223" y="178" width="1" height="75" fill="#000"/><rect x="1221" y="198" width="5" height="46" fill="#000"/><rect x="1222" y="199" width="3" height="44" fill="#FF0000"/><rect x="1231" y="179" width="1" height="35" fill="#000"/><rect x="1229" y="198" width="5" height="1" fill="#000"/><rect x="1239" y="194" width="1" height="16" fill="#000"/><rect x="1237" y="198" width="5" height="1" fill="#000"/><rect x="1247" y="182" width="1" height="20" fill="#000"/><rect x="1245" y="192" width="5" height="9" fill="#000"/><rect x="1246" y="193" width="3" height="7" fill="#00FF00"/><rect x="1255" y="197" width="1" height="40" fill="#000"/><rect x="1253" y="203" width="5" height="17" fill="#000"/><rect x="1254" y="204" width="3" height="15" fill="#00FF00"/><rect x="1263" y="166" width="1" height="62" fill="#000"/><rect x="1261" y="171" width="5" height="49" fill="#000"/><rect x="1262" y="172" width="3" height="47" fill="#FF0000"/><rect x="1271" y="170" width="1" height="31" fill="#000"/><rect x="1269" y="172" width="5" height="20" fill="#000"/><rect x="1270" y="173" width="3" height="18" fill="#00FF00"/><rect x="1279" y="170" width="1" height="34" fill="#000"/><rect x="1277" y="170" width="5" height="22" fill="#000"/><rect x="1278" y="171" width="3" height="20" fill="#FF0000"/><rect x="1287" y="169" width="1" height="22" fill="#000"/><rect x="1285" y="170" width="5" height="19" fill="#000"/><rect x="1286" y="171" width="3" height="17" fill="#00FF00"/><rect x="1295" y="184" width="1" height="6" fill="#000"/><rect x="1293" y="188" width="5" height="1" fill="#000"/><polyline points="-1,398.5 7,398.5 15,398.5 23,398.5 31,402.0 39,412.0 47,424.0 55,440.0 63,458.0 71,464.0 79,460.5 87,455.0 95,448.6 103,445.5 111,451.3 119,451.0 127,450.8 135,450.8 143,450.5 151,450.1 159,450.1 167,448.7 175,448.6 183,447.0 191,445.8 199,442.9 207,443.6 215,442.8 223,443.2 231,445.3 239,447.9 247,452.5 255,454.3 263,457.7 271,456.2 279,452.1 287,449.5 295,447.3 303,445.6 311,439.6 319,430.2 327,431.3 335,423.0 343,414.6 351,412.5 359,407.9 367,398.4 375,388.6 383,379.1 391,367.5 399,353.1 407,342.5 415,339.2 423,337.0 431,335.1 439,335.0 447,331.9 455,330.6 463,328.2 471,322.8 479,315.3 487,311.6 495,307.4 503,303.3 511,305.0 519,307.1 527,305.8 535,306.6 543,298.1 551,288.2 559,268.2 567,248.6 575,231.0 583,211.9 591,198.2 599,184.9 607,161.1 615,139.5 623,120.0 631,102.8 639,83.7 647,62.8 655,43.1 663,27.4 671,11.8 679,5.7 687,11.5 695,19.3 703,22.4 711,27.5 719,29.4 727,33.8 735,39.1 743,42.8 751,40.4 759,36.5 767,30.9 775,28.5 783,20.4 791,5.6 799,-4.5 807,-7.7 815,-3.3 823,8.6 831,26.1 839,34.0 847,35.3 855,47.1 863,65.5 871,89.6 879,117.7 887,148.5 895,170.4 903,197.5 911,212.5 919,229.5 927,250.2 935,276.8 943,295.9 951,298.9 959,296.3 967,274.7 975,253.5 983,239.9 991,229.8 999,218.1 1007,202.2 1015,191.7 1023,186.1 1031,175.0 1039,168.0 1047,158.9 1055,154.5 1063,146.2 1071,134.4 1079,116.4 1087,104.4 1095,105.2 1103,104.1 1111,105.4 1119,111.4 1127,108.7 1135,101.8 1143,95.9 1151,95.1 1159,97.7 1167,95.3 1175,96.3 1183,98.0 1191,98.0 1199,97.7 1207,97.2 1215,95.8 1223,95.8 1231,96.5 1239,101.8 1247,109.6 1255,123.9 1263,130.7 1271,135.5 1279,133.6 1287,135.8 1295,144.3" fill="none" stroke="#3CB371" stroke-width="1"/><polyline points="-1,512.0 7,511.5 15,511.0 23,510.7 31,513.0 39,517.0 47,522.0 55,527.8 63,530.5 71,531.8 79,531.0 87,529.2 95,525.0 103,520.0 111,514.0 119,513.5 127,514.0 135,515.0 143,516.0 151,516.3 159,516.1 167,516.7 175,516.6 183,515.4 191,514.6 199,512.0 207,513.5 215,512.9 223,513.1 231,513.9 239,514.7 247,516.0 255,516.4 263,517.6 271,517.0 279,513.8 287,508.8 295,504.8 303,500.2 311,495.7 319,490.5 327,483.2 335,478.2 343,474.4 351,471.9 359,469.3 367,461.8 375,456.1 383,450.3 391,443.9 399,437.2 407,431.0 415,426.4 423,420.4 431,415.0 439,410.2 447,404.9 455,399.1 463,393.2 471,387.5 479,382.3 487,377.6 495,373.1 503,368.3 511,361.7 519,356.0 527,353.5 535,351.3 543,346.8 551,342.6 559,337.3 567,331.0 575,322.4 583,313.7 591,305.3 599,295.9 607,285.2 615,274.2 623,263.6 631,253.4 639,242.6 647,230.0 655,217.0 663,204.5 671,191.6 679,180.1 687,171.0 695,159.0 703,149.6 711,140.1 719,132.7 727,126.9 735,124.1 743,122.1 751,122.8 759,124.1 767,127.8 775,131.2 783,137.5 791,146.9 799,158.2 807,171.7 815,185.6 823,197.1 831,209.7 839,224.3 847,236.5 855,251.2 863,264.8 871,278.9 879,293.9 887,305.8 895,317.1 903,326.5 911,332.3 919,337.9 927,346.1 935,358.0 943,363.7 951,364.7 959,363.8 967,358.7 975,353.0 983,349.7 991,346.7 999,340.2 1007,331.5 1015,323.3 1023,317.7 1031,309.8 1039,301.3 1047,294.7 1055,286.3 1063,279.2 1071,271.2 1079,261.5 1087,248.7 1095,231.9 1103,219.9 1111,210.7 1119,203.9 1127,199.9 1135,195.1 1143,190.1 1151,185.7 1159,182.9 1167,184.5 1175,183.0 1183,182.4 1191,182.3 1199,182.6 1207,183.1 1215,184.2 1223,183.8 1231,184.7 1239,187.7 1247,191.2 1255,196.8 1263,198.7 1271,200.5 1279,199.7 1287,200.7 1295,203.1" fill="none" stroke="#3CB371" stroke-width="1"/><polyline points="-1,624.0 7,626.9 15,622.4 23,621.5 31,620.8 39,619.0 47,616.0 55,612.3 63,606.0 71,598.6 79,600.5 87,603.1 95,601.0 103,590.0 111,575.0 119,576.0 127,576.7 135,579.0 143,581.5 151,582.5 159,582.1 167,584.7 175,584.5 183,583.9 191,583.3 199,581.2 207,583.4 215,583.0 223,583.0 231,582.6 239,581.6 247,579.4 255,578.6 263,577.5 271,577.9 279,575.5 287,568.1 295,562.3 303,554.8 311,551.7 319,550.7 327,535.1 335,533.5 343,534.3 351,531.3 359,530.6 367,525.1 375,523.7 383,521.6 391,520.4 399,521.4 407,519.5 415,513.6 423,503.7 431,494.8 439,485.5 447,477.8 455,467.6 463,458.2 471,452.2 479,449.3 487,443.6 495,438.7 503,433.3 511,418.3 519,405.0 527,401.2 535,395.9 543,395.4 551,397.0 559,406.4 567,413.4 575,413.9 583,415.6 591,412.5 599,406.9 607,409.3 615,409.0 623,407.1 631,404.0 639,401.6 647,397.1 655,390.9 663,381.5 671,371.3 679,354.5 687,330.6 695,298.8 703,276.7 711,252.7 719,236.1 727,220.0 735,209.2 743,201.5 751,205.2 759,211.7 767,224.7 775,233.8 783,254.5 791,288.2 799,321.0 807,351.1 815,374.5 823,385.6 831,393.4 839,414.6 847,437.7 855,455.2 863,464.1 871,468.3 879,470.2 887,463.0 895,463.9 903,455.4 911,452.0 919,446.3 927,442.1 935,439.3 943,431.5 951,430.5 959,431.3 967,442.6 975,452.5 983,459.4 991,463.5 999,462.3 1007,460.8 1015,454.9 1023,449.3 1031,444.7 1039,434.7 1047,430.6 1055,418.2 1063,412.1 1071,408.1 1079,406.5 1087,392.9 1095,358.5 1103,335.7 1111,315.9 1119,296.4 1127,291.2 1135,288.4 1143,284.3 1151,276.2 1159,268.2 1167,273.7 1175,269.7 1183,266.8 1191,266.6 1199,267.4 1207,268.9 1215,272.5 1223,271.8 1231,272.9 1239,273.5 1247,272.9 1255,269.7 1263,266.7 1271,265.6 1279,265.8 1287,265.5 1295,261.9" fill="none" stroke="#3CB371" stroke-width="1"/><rect x="0" y="116" width="1642" height="2" fill="#FF0000"/><rect x="0" y="148" width="1642" height="2" fill="#FF0000"/><rect x="0" y="204" width="1642" height="2" fill="#FFA500"/><rect x="0" y="240" width="1642" height="2" fill="#0000FF"/><rect x="0" y="277" width="1642" height="2" fill="#0000FF"/><rect x="1636" y="114" width="6" height="6" fill="#FF0000"/><rect x="1638" y="116" width="2" height="2" fill="#fff"/><rect x="1636" y="146" width="6" height="6" fill="#FF0000"/><rect x="1638" y="148" width="2" height="2" fill="#fff"/><rect x="1636" y="202" width="6" height="6" fill="#FFA500"/><rect x="1638" y="204" width="2" height="2" fill="#fff"/><rect x="1636" y="238" width="6" height="6" fill="#0000FF"/><rect x="1638" y="240" width="2" height="2" fill="#fff"/><rect x="1636" y="275" width="6" height="6" fill="#0000FF"/><rect x="1638" y="277" width="2" height="2" fill="#fff"/></g><g shape-rendering="geometricPrecision"><line x1="1202" y1="270" x2="1325" y2="196" stroke="#E8141C" stroke-width="3.6"/><polygon points="1338,188 1318,189.5 1327.5,204.5" fill="#E8141C"/></g><polygon points="1303,25 1314,25 1308.5,30" fill="#000"/><g clip-path="url(#cd)"><rect x="-2" y="718" width="3" height="2" fill="#00FF00"/><rect x="6" y="718" width="3" height="5" fill="#00FF00"/><rect x="14" y="718" width="3" height="3" fill="#00FF00"/><rect x="22" y="718" width="3" height="1" fill="#00FF00"/><rect x="30" y="718" width="3" height="1" fill="#00FF00"/><rect x="38" y="718" width="3" height="1" fill="#00FF00"/><rect x="46" y="716" width="3" height="2" fill="#00FF00"/><rect x="54" y="715" width="3" height="3" fill="#00FF00"/><rect x="62" y="712" width="3" height="6" fill="#00FF00"/><rect x="70" y="709" width="3" height="9" fill="#00FF00"/><rect x="78" y="705" width="3" height="13" fill="#00FF00"/><rect x="86" y="702" width="3" height="16" fill="#00FF00"/><rect x="94" y="700" width="3" height="18" fill="#00FF00"/><rect x="102" y="700" width="3" height="18" fill="#00FF00"/><rect x="110" y="701" width="3" height="17" fill="#00FF00"/><rect x="118" y="707" width="3" height="11" fill="#00FF00"/><rect x="126" y="714" width="3" height="4" fill="#00FF00"/><rect x="134" y="718" width="3" height="1" fill="#00FF00"/><rect x="142" y="718" width="3" height="3" fill="#00FF00"/><rect x="150" y="718" width="3" height="5" fill="#00FF00"/><rect x="158" y="718" width="3" height="5" fill="#00FF00"/><rect x="166" y="718" width="3" height="9" fill="#00FF00"/><rect x="174" y="718" width="3" height="7" fill="#00FF00"/><rect x="182" y="718" width="3" height="3" fill="#00FF00"/><rect x="190" y="718" width="3" height="1" fill="#00FF00"/><rect x="198" y="715" width="3" height="3" fill="#00FF00"/><rect x="206" y="717" width="3" height="1" fill="#00FF00"/><rect x="214" y="716" width="3" height="2" fill="#00FF00"/><rect x="222" y="714" width="3" height="4" fill="#00FF00"/><rect x="230" y="713" width="3" height="5" fill="#00FF00"/><rect x="238" y="711" width="3" height="7" fill="#00FF00"/><rect x="246" y="709" width="3" height="9" fill="#00FF00"/><rect x="254" y="708" width="3" height="10" fill="#00FF00"/><rect x="262" y="708" width="3" height="10" fill="#00FF00"/><rect x="270" y="708" width="3" height="10" fill="#00FF00"/><rect x="278" y="707" width="3" height="11" fill="#00FF00"/><rect x="286" y="705" width="3" height="13" fill="#00FF00"/><rect x="294" y="705" width="3" height="13" fill="#00FF00"/><rect x="302" y="704" width="3" height="14" fill="#00FF00"/><rect x="310" y="702" width="3" height="16" fill="#00FF00"/><rect x="318" y="698" width="3" height="20" fill="#00FF00"/><rect x="326" y="696" width="3" height="22" fill="#00FF00"/><rect x="334" y="694" width="3" height="24" fill="#00FF00"/><rect x="342" y="693" width="3" height="25" fill="#00FF00"/><rect x="350" y="694" width="3" height="24" fill="#00FF00"/><rect x="358" y="694" width="3" height="24" fill="#00FF00"/><rect x="366" y="690" width="3" height="28" fill="#00FF00"/><rect x="374" y="688" width="3" height="30" fill="#00FF00"/><rect x="382" y="686" width="3" height="32" fill="#00FF00"/><rect x="390" y="684" width="3" height="34" fill="#00FF00"/><rect x="398" y="680" width="3" height="38" fill="#00FF00"/><rect x="406" y="679" width="3" height="39" fill="#00FF00"/><rect x="414" y="681" width="3" height="37" fill="#00FF00"/><rect x="422" y="682" width="3" height="36" fill="#00FF00"/><rect x="430" y="683" width="3" height="35" fill="#00FF00"/><rect x="438" y="685" width="3" height="33" fill="#00FF00"/><rect x="446" y="685" width="3" height="33" fill="#00FF00"/><rect x="454" y="685" width="3" height="33" fill="#00FF00"/><rect x="462" y="684" width="3" height="34" fill="#00FF00"/><rect x="470" y="683" width="3" height="35" fill="#00FF00"/><rect x="478" y="682" width="3" height="36" fill="#00FF00"/><rect x="486" y="682" width="3" height="36" fill="#00FF00"/><rect x="494" y="682" width="3" height="36" fill="#00FF00"/><rect x="502" y="682" width="3" height="36" fill="#00FF00"/><rect x="510" y="682" width="3" height="36" fill="#00FF00"/><rect x="518" y="683" width="3" height="35" fill="#00FF00"/><rect x="526" y="685" width="3" height="33" fill="#00FF00"/><rect x="534" y="688" width="3" height="30" fill="#00FF00"/><rect x="542" y="686" width="3" height="32" fill="#00FF00"/><rect x="550" y="684" width="3" height="34" fill="#00FF00"/><rect x="558" y="679" width="3" height="39" fill="#00FF00"/><rect x="566" y="675" width="3" height="43" fill="#00FF00"/><rect x="574" y="671" width="3" height="47" fill="#00FF00"/><rect x="582" y="666" width="3" height="52" fill="#00FF00"/><rect x="590" y="664" width="3" height="54" fill="#00FF00"/><rect x="598" y="662" width="3" height="56" fill="#00FF00"/><rect x="606" y="657" width="3" height="61" fill="#00FF00"/><rect x="614" y="653" width="3" height="65" fill="#00FF00"/><rect x="622" y="650" width="3" height="68" fill="#00FF00"/><rect x="630" y="648" width="3" height="70" fill="#00FF00"/><rect x="638" y="645" width="3" height="73" fill="#00FF00"/><rect x="646" y="642" width="3" height="76" fill="#00FF00"/><rect x="654" y="639" width="3" height="79" fill="#00FF00"/><rect x="662" y="638" width="3" height="80" fill="#00FF00"/><rect x="670" y="637" width="3" height="81" fill="#00FF00"/><rect x="678" y="639" width="3" height="79" fill="#00FF00"/><rect x="686" y="648" width="3" height="70" fill="#00FF00"/><rect x="694" y="651" width="3" height="67" fill="#00FF00"/><rect x="702" y="654" width="3" height="64" fill="#00FF00"/><rect x="710" y="657" width="3" height="61" fill="#00FF00"/><rect x="718" y="660" width="3" height="58" fill="#00FF00"/><rect x="726" y="664" width="3" height="54" fill="#00FF00"/><rect x="734" y="672" width="3" height="46" fill="#00FF00"/><rect x="742" y="679" width="3" height="39" fill="#00FF00"/><rect x="750" y="690" width="3" height="28" fill="#00FF00"/><rect x="758" y="699" width="3" height="19" fill="#00FF00"/><rect x="766" y="707" width="3" height="11" fill="#00FF00"/><rect x="774" y="711" width="3" height="7" fill="#00FF00"/><rect x="782" y="718" width="3" height="2" fill="#00FF00"/><rect x="790" y="718" width="3" height="13" fill="#00FF00"/><rect x="798" y="718" width="3" height="24" fill="#00FF00"/><rect x="806" y="718" width="3" height="33" fill="#00FF00"/><rect x="814" y="718" width="3" height="40" fill="#00FF00"/><rect x="822" y="718" width="3" height="41" fill="#00FF00"/><rect x="830" y="718" width="3" height="42" fill="#00FF00"/><rect x="838" y="718" width="3" height="48" fill="#00FF00"/><rect x="846" y="718" width="3" height="54" fill="#00FF00"/><rect x="854" y="718" width="3" height="58" fill="#00FF00"/><rect x="862" y="718" width="3" height="59" fill="#00FF00"/><rect x="870" y="718" width="3" height="59" fill="#00FF00"/><rect x="878" y="718" width="3" height="60" fill="#00FF00"/><rect x="886" y="718" width="3" height="56" fill="#00FF00"/><rect x="894" y="718" width="3" height="55" fill="#00FF00"/><rect x="902" y="718" width="3" height="51" fill="#00FF00"/><rect x="910" y="718" width="3" height="46" fill="#00FF00"/><rect x="918" y="718" width="3" height="41" fill="#00FF00"/><rect x="926" y="718" width="3" height="41" fill="#00FF00"/><rect x="934" y="718" width="3" height="46" fill="#00FF00"/><rect x="942" y="718" width="3" height="43" fill="#00FF00"/><rect x="950" y="718" width="3" height="37" fill="#00FF00"/><rect x="958" y="718" width="3" height="31" fill="#00FF00"/><rect x="966" y="718" width="3" height="19" fill="#00FF00"/><rect x="974" y="718" width="3" height="8" fill="#00FF00"/><rect x="982" y="718" width="3" height="1" fill="#00FF00"/><rect x="990" y="713" width="3" height="5" fill="#00FF00"/><rect x="998" y="709" width="3" height="9" fill="#00FF00"/><rect x="1006" y="703" width="3" height="15" fill="#00FF00"/><rect x="1014" y="700" width="3" height="18" fill="#00FF00"/><rect x="1022" y="700" width="3" height="18" fill="#00FF00"/><rect x="1030" y="697" width="3" height="21" fill="#00FF00"/><rect x="1038" y="695" width="3" height="23" fill="#00FF00"/><rect x="1046" y="693" width="3" height="25" fill="#00FF00"/><rect x="1054" y="692" width="3" height="26" fill="#00FF00"/><rect x="1062" y="690" width="3" height="28" fill="#00FF00"/><rect x="1070" y="687" width="3" height="31" fill="#00FF00"/><rect x="1078" y="681" width="3" height="37" fill="#00FF00"/><rect x="1086" y="676" width="3" height="42" fill="#00FF00"/><rect x="1094" y="670" width="3" height="48" fill="#00FF00"/><rect x="1102" y="669" width="3" height="49" fill="#00FF00"/><rect x="1110" y="670" width="3" height="48" fill="#00FF00"/><rect x="1118" y="674" width="3" height="44" fill="#00FF00"/><rect x="1126" y="677" width="3" height="41" fill="#00FF00"/><rect x="1134" y="677" width="3" height="41" fill="#00FF00"/><rect x="1142" y="677" width="3" height="41" fill="#00FF00"/><rect x="1150" y="679" width="3" height="39" fill="#00FF00"/><rect x="1158" y="685" width="3" height="33" fill="#00FF00"/><rect x="1166" y="695" width="3" height="23" fill="#00FF00"/><rect x="1174" y="699" width="3" height="19" fill="#00FF00"/><rect x="1182" y="706" width="3" height="12" fill="#00FF00"/><rect x="1190" y="709" width="3" height="9" fill="#00FF00"/><rect x="1198" y="712" width="3" height="6" fill="#00FF00"/><rect x="1206" y="715" width="3" height="3" fill="#00FF00"/><rect x="1214" y="718" width="3" height="1" fill="#00FF00"/><rect x="1222" y="717" width="3" height="1" fill="#00FF00"/><rect x="1230" y="716" width="3" height="2" fill="#00FF00"/><rect x="1238" y="715" width="3" height="3" fill="#00FF00"/><rect x="1246" y="714" width="3" height="4" fill="#00FF00"/><rect x="1254" y="716" width="3" height="2" fill="#00FF00"/><rect x="1262" y="713" width="3" height="5" fill="#00FF00"/><rect x="1270" y="712" width="3" height="6" fill="#00FF00"/><rect x="1278" y="710" width="3" height="8" fill="#00FF00"/><rect x="1286" y="710" width="3" height="8" fill="#00FF00"/><rect x="1294" y="710" width="3" height="8" fill="#00FF00"/><polyline points="-1,718.3 7,718.8 15,719.1 23,719.2 31,719.2 39,719.2 47,718.9 55,718.6 63,717.9 71,716.6 79,714.7 87,712.6 95,710.6 103,708.6 111,706.8 119,705.8 127,705.7 135,706.4 143,707.8 151,709.7 159,712.0 167,714.9 175,717.7 183,719.9 191,721.2 199,721.3 207,721.3 215,720.6 223,719.7 231,718.6 239,716.8 247,715.1 255,713.6 263,712.4 271,711.6 279,710.4 287,709.3 295,708.2 303,707.2 311,706.1 319,704.9 327,703.6 335,702.1 343,700.4 351,699.0 359,697.7 367,696.2 375,694.4 383,692.7 391,691.1 399,689.3 407,687.6 415,686.3 423,684.9 431,683.6 439,683.0 447,682.7 455,682.5 463,682.6 471,682.9 479,683.3 487,683.4 495,683.5 503,683.4 511,683.1 519,682.8 527,682.8 535,683.2 543,683.5 551,683.7 559,683.4 567,682.5 575,681.2 583,679.5 591,677.5 599,675.0 607,671.5 615,667.9 623,664.1 631,660.6 639,657.4 647,654.2 655,651.1 663,648.2 671,645.3 679,643.4 687,642.9 695,643.0 703,643.8 711,645.0 719,647.0 727,649.8 735,653.6 743,658.3 751,664.0 759,669.7 767,675.9 775,682.2 783,689.1 791,697.1 799,705.8 807,714.6 815,723.3 823,731.0 831,737.7 839,744.3 847,751.1 855,757.4 863,762.4 871,766.3 879,769.2 887,770.9 895,772.4 903,773.4 911,773.1 919,771.6 927,769.7 935,768.3 943,766.5 951,764.0 959,761.3 967,757.2 975,752.5 983,747.4 991,742.3 999,736.7 1007,730.0 1015,723.2 1023,717.1 1031,711.3 1039,706.7 1047,703.0 1055,700.1 1063,697.6 1071,695.2 1079,692.7 1087,690.0 1095,686.7 1103,683.5 1111,680.8 1119,678.7 1127,677.0 1135,675.5 1143,674.4 1151,674.3 1159,675.4 1167,678.1 1175,681.5 1183,685.5 1191,689.3 1199,693.2 1207,697.5 1215,702.1 1223,706.2 1231,709.6 1239,711.8 1247,713.5 1255,714.6 1263,715.0 1271,714.9 1279,714.4 1287,713.4 1295,712.6" fill="none" stroke="#FF0000" stroke-width="2"/></g><g clip-path="url(#cr)"><line x1="2" y1="816.5" x2="1642" y2="816.5" stroke="#000" stroke-width="1" stroke-dasharray="3,3"/><line x1="2" y1="856.5" x2="1642" y2="856.5" stroke="#000" stroke-width="1" stroke-dasharray="3,3"/><line x1="2" y1="904.5" x2="1642" y2="904.5" stroke="#000" stroke-width="1" stroke-dasharray="3,3"/><polyline points="-1,858.4 7,864.6 15,856.5 23,855.7 31,855.2 39,859.2 47,852.9 55,854.8 63,850.6 71,847.0 79,844.8 87,842.7 95,846.6 103,847.9 111,854.1 119,866.2 127,871.3 135,866.8 143,867.7 151,862.3 159,860.6 167,870.4 175,856.3 183,851.0 191,852.1 199,848.6 207,860.9 215,853.6 223,852.9 231,852.0 239,849.4 247,849.0 255,848.5 263,853.8 271,850.4 279,848.8 287,846.1 295,847.9 303,845.5 311,840.8 319,836.2 327,836.6 335,834.6 343,834.3 351,847.9 359,842.8 367,831.8 375,833.6 383,832.3 391,829.0 399,825.6 407,828.6 415,843.0 423,839.7 431,839.9 439,842.8 447,837.1 455,836.1 463,833.4 471,830.4 479,828.5 487,834.1 495,832.7 503,831.1 511,829.3 519,831.1 527,839.4 535,845.9 543,830.6 551,828.9 559,821.4 567,819.4 575,817.5 583,815.4 591,819.1 599,817.1 607,811.4 615,810.5 623,810.0 631,809.8 639,807.7 647,805.4 655,804.5 663,806.3 671,805.0 679,822.5 687,845.4 695,836.7 703,836.2 711,834.8 719,835.0 727,841.5 735,856.0 743,856.0 751,869.8 759,869.5 767,869.5 775,864.7 783,875.9 791,884.9 799,887.1 807,888.9 815,887.8 823,874.0 831,875.2 839,885.4 847,886.9 855,887.3 863,880.0 871,880.4 879,883.0 887,869.8 895,876.2 903,866.1 911,863.6 919,862.6 927,871.8 935,880.0 943,864.9 951,858.8 959,855.8 967,845.2 975,843.5 983,843.9 991,846.7 999,847.3 1007,842.4 1015,845.4 1023,851.6 1031,844.4 1039,845.7 1047,844.4 1055,845.3 1063,842.3 1071,837.7 1079,831.8 1087,830.4 1095,827.7 1103,835.3 1111,841.4 1119,849.6 1127,846.3 1135,841.0 1143,841.0 1151,847.4 1159,856.4 1167,867.1 1175,857.1 1183,864.9 1191,858.9 1199,860.8 1207,860.5 1215,863.3 1223,853.9 1231,853.9 1239,853.9 1247,854.4 1255,859.0 1263,848.4 1271,853.3 1279,849.0 1287,853.5 1295,853.4" fill="none" stroke="#1E90FF" stroke-width="2"/></g><rect x="1643" y="30" width="2" height="1" fill="#000"/><text x="1648" y="34" fill="#000" stroke="#000" stroke-width="0.12" font-size="9" text-anchor="start" textLength="32" lengthAdjust="spacingAndGlyphs">169.160</text><rect x="1643" y="63" width="2" height="1" fill="#000"/><text x="1648" y="67" fill="#000" stroke="#000" stroke-width="0.12" font-size="9" text-anchor="start" textLength="32" lengthAdjust="spacingAndGlyphs">168.515</text><rect x="1643" y="96" width="2" height="1" fill="#000"/><text x="1648" y="100" fill="#000" stroke="#000" stroke-width="0.12" font-size="9" text-anchor="start" textLength="32" lengthAdjust="spacingAndGlyphs">167.885</text><rect x="1643" y="129" width="2" height="1" fill="#000"/><text x="1648" y="133" fill="#000" stroke="#000" stroke-width="0.12" font-size="9" text-anchor="start" textLength="32" lengthAdjust="spacingAndGlyphs">167.240</text><rect x="1643" y="162" width="2" height="1" fill="#000"/><text x="1648" y="166" fill="#000" stroke="#000" stroke-width="0.12" font-size="9" text-anchor="start" textLength="32" lengthAdjust="spacingAndGlyphs">166.595</text><rect x="1643" y="195" width="2" height="1" fill="#000"/><text x="1648" y="199" fill="#000" stroke="#000" stroke-width="0.12" font-size="9" text-anchor="start" textLength="32" lengthAdjust="spacingAndGlyphs">165.950</text><rect x="1643" y="228" width="2" height="1" fill="#000"/><text x="1648" y="232" fill="#000" stroke="#000" stroke-width="0.12" font-size="9" text-anchor="start" textLength="32" lengthAdjust="spacingAndGlyphs">165.320</text><rect x="1643" y="261" width="2" height="1" fill="#000"/><text x="1648" y="265" fill="#000" stroke="#000" stroke-width="0.12" font-size="9" text-anchor="start" textLength="32" lengthAdjust="spacingAndGlyphs">164.675</text><rect x="1643" y="294" width="2" height="1" fill="#000"/><text x="1648" y="298" fill="#000" stroke="#000" stroke-width="0.12" font-size="9" text-anchor="start" textLength="32" lengthAdjust="spacingAndGlyphs">164.030</text><rect x="1643" y="327" width="2" height="1" fill="#000"/><text x="1648" y="331" fill="#000" stroke="#000" stroke-width="0.12" font-size="9" text-anchor="start" textLength="32" lengthAdjust="spacingAndGlyphs">163.400</text><rect x="1643" y="360" width="2" height="1" fill="#000"/><text x="1648" y="364" fill="#000" stroke="#000" stroke-width="0.12" font-size="9" text-anchor="start" textLength="32" lengthAdjust="spacingAndGlyphs">162.755</text><rect x="1643" y="393" width="2" height="1" fill="#000"/><text x="1648" y="397" fill="#000" stroke="#000" stroke-width="0.12" font-size="9" text-anchor="start" textLength="32" lengthAdjust="spacingAndGlyphs">162.110</text><rect x="1643" y="426" width="2" height="1" fill="#000"/><text x="1648" y="430" fill="#000" stroke="#000" stroke-width="0.12" font-size="9" text-anchor="start" textLength="32" lengthAdjust="spacingAndGlyphs">161.465</text><rect x="1643" y="459" width="2" height="1" fill="#000"/><text x="1648" y="463" fill="#000" stroke="#000" stroke-width="0.12" font-size="9" text-anchor="start" textLength="32" lengthAdjust="spacingAndGlyphs">160.835</text><rect x="1643" y="492" width="2" height="1" fill="#000"/><text x="1648" y="496" fill="#000" stroke="#000" stroke-width="0.12" font-size="9" text-anchor="start" textLength="32" lengthAdjust="spacingAndGlyphs">160.190</text><rect x="1643" y="525" width="2" height="1" fill="#000"/><text x="1648" y="529" fill="#000" stroke="#000" stroke-width="0.12" font-size="9" text-anchor="start" textLength="32" lengthAdjust="spacingAndGlyphs">159.545</text><rect x="1643" y="558" width="2" height="1" fill="#000"/><text x="1648" y="562" fill="#000" stroke="#000" stroke-width="0.12" font-size="9" text-anchor="start" textLength="32" lengthAdjust="spacingAndGlyphs">158.915</text><rect x="1643" y="591" width="2" height="1" fill="#000"/><text x="1648" y="595" fill="#000" stroke="#000" stroke-width="0.12" font-size="9" text-anchor="start" textLength="32" lengthAdjust="spacingAndGlyphs">158.270</text><rect x="1643" y="624" width="2" height="1" fill="#000"/><text x="1648" y="628" fill="#000" stroke="#000" stroke-width="0.12" font-size="9" text-anchor="start" textLength="32" lengthAdjust="spacingAndGlyphs">157.625</text><rect x="1644" y="111" width="41" height="11" fill="#FF0000"/><text x="1648" y="120.0" fill="#fff" stroke="#fff" stroke-width="0.12" font-size="9" text-anchor="start" textLength="32" lengthAdjust="spacingAndGlyphs">167.467</text><rect x="1644" y="143" width="41" height="11" fill="#FF0000"/><text x="1648" y="152.0" fill="#fff" stroke="#fff" stroke-width="0.12" font-size="9" text-anchor="start" textLength="32" lengthAdjust="spacingAndGlyphs">166.846</text><rect x="1644" y="182" width="41" height="11" fill="#000000"/><text x="1648" y="190.5" fill="#fff" stroke="#fff" stroke-width="0.12" font-size="9" text-anchor="start" textLength="32" lengthAdjust="spacingAndGlyphs">166.110</text><rect x="1644" y="199" width="41" height="11" fill="#FFA500"/><text x="1648" y="208.0" fill="#fff" stroke="#fff" stroke-width="0.12" font-size="9" text-anchor="start" textLength="32" lengthAdjust="spacingAndGlyphs">165.761</text><rect x="1644" y="235" width="41" height="11" fill="#0000FF"/><text x="1648" y="244.0" fill="#fff" stroke="#fff" stroke-width="0.12" font-size="9" text-anchor="start" textLength="32" lengthAdjust="spacingAndGlyphs">165.063</text><rect x="1644" y="272" width="41" height="11" fill="#0000FF"/><text x="1648" y="281.0" fill="#fff" stroke="#fff" stroke-width="0.12" font-size="9" text-anchor="start" textLength="32" lengthAdjust="spacingAndGlyphs">164.345</text><rect x="1643" y="630" width="2" height="1" fill="#000"/><text x="1646.5" y="640" fill="#000" stroke="#000" stroke-width="0.12" font-size="9" text-anchor="start" textLength="27" lengthAdjust="spacingAndGlyphs">1.5505</text><rect x="1643" y="718" width="2" height="1" fill="#000"/><text x="1646" y="722" fill="#000" stroke="#000" stroke-width="0.12" font-size="9" text-anchor="start" textLength="17" lengthAdjust="spacingAndGlyphs">0.00</text><rect x="1643" y="784" width="2" height="1" fill="#000"/><text x="1646" y="782" fill="#000" stroke="#000" stroke-width="0.12" font-size="9" text-anchor="start" textLength="31" lengthAdjust="spacingAndGlyphs">-1.1666</text><rect x="1643" y="789" width="2" height="1" fill="#000"/><text x="1646" y="798" fill="#000" stroke="#000" stroke-width="0.12" font-size="9" text-anchor="start" textLength="14" lengthAdjust="spacingAndGlyphs">100</text><rect x="1643" y="816" width="2" height="1" fill="#000"/><text x="1646" y="820" fill="#000" stroke="#000" stroke-width="0.12" font-size="9" text-anchor="start" textLength="9" lengthAdjust="spacingAndGlyphs">80</text><rect x="1643" y="856" width="2" height="1" fill="#000"/><text x="1646" y="860" fill="#000" stroke="#000" stroke-width="0.12" font-size="9" text-anchor="start" textLength="9" lengthAdjust="spacingAndGlyphs">50</text><rect x="1643" y="904" width="2" height="1" fill="#000"/><text x="1646" y="908" fill="#000" stroke="#000" stroke-width="0.12" font-size="9" text-anchor="start" textLength="9" lengthAdjust="spacingAndGlyphs">15</text><rect x="1643" y="924" width="2" height="1" fill="#000"/><text x="1646" y="922" fill="#000" stroke="#000" stroke-width="0.12" font-size="9" text-anchor="start" textLength="5" lengthAdjust="spacingAndGlyphs">0</text><rect x="47" y="926" width="1" height="3" fill="#000"/><text x="46" y="938" fill="#000" stroke="#000" stroke-width="0.12" font-size="9" text-anchor="start" textLength="58" lengthAdjust="spacingAndGlyphs">22 May 23:00</text><rect x="111" y="926" width="1" height="3" fill="#000"/><text x="110" y="938" fill="#000" stroke="#000" stroke-width="0.12" font-size="9" text-anchor="start" textLength="58" lengthAdjust="spacingAndGlyphs">24 May 04:00</text><rect x="175" y="926" width="1" height="3" fill="#000"/><text x="174" y="938" fill="#000" stroke="#000" stroke-width="0.12" font-size="9" text-anchor="start" textLength="58" lengthAdjust="spacingAndGlyphs">25 May 12:00</text><rect x="239" y="926" width="1" height="3" fill="#000"/><text x="238" y="938" fill="#000" stroke="#000" stroke-width="0.12" font-size="9" text-anchor="start" textLength="58" lengthAdjust="spacingAndGlyphs">26 May 20:00</text><rect x="303" y="926" width="1" height="3" fill="#000"/><text x="302" y="938" fill="#000" stroke="#000" stroke-width="0.12" font-size="9" text-anchor="start" textLength="58" lengthAdjust="spacingAndGlyphs">30 May 04:00</text><rect x="367" y="926" width="1" height="3" fill="#000"/><text x="366" y="938" fill="#000" stroke="#000" stroke-width="0.12" font-size="9" text-anchor="start" textLength="58" lengthAdjust="spacingAndGlyphs">31 May 12:00</text><rect x="431" y="926" width="1" height="3" fill="#000"/><text x="430" y="938" fill="#000" stroke="#000" stroke-width="0.12" font-size="9" text-anchor="start" textLength="48" lengthAdjust="spacingAndGlyphs">1 Jun 20:00</text><rect x="495" y="926" width="1" height="3" fill="#000"/><text x="494" y="938" fill="#000" stroke="#000" stroke-width="0.12" font-size="9" text-anchor="start" textLength="48" lengthAdjust="spacingAndGlyphs">3 Jun 04:00</text><rect x="559" y="926" width="1" height="3" fill="#000"/><text x="558" y="938" fill="#000" stroke="#000" stroke-width="0.12" font-size="9" text-anchor="start" textLength="48" lengthAdjust="spacingAndGlyphs">6 Jun 12:00</text><rect x="623" y="926" width="1" height="3" fill="#000"/><text x="622" y="938" fill="#000" stroke="#000" stroke-width="0.12" font-size="9" text-anchor="start" textLength="48" lengthAdjust="spacingAndGlyphs">7 Jun 20:00</text><rect x="687" y="926" width="1" height="3" fill="#000"/><text x="686" y="938" fill="#000" stroke="#000" stroke-width="0.12" font-size="9" text-anchor="start" textLength="48" lengthAdjust="spacingAndGlyphs">9 Jun 04:00</text><rect x="751" y="926" width="1" height="3" fill="#000"/><text x="750" y="938" fill="#000" stroke="#000" stroke-width="0.12" font-size="9" text-anchor="start" textLength="53" lengthAdjust="spacingAndGlyphs">10 Jun 12:00</text><rect x="815" y="926" width="1" height="3" fill="#000"/><text x="814" y="938" fill="#000" stroke="#000" stroke-width="0.12" font-size="9" text-anchor="start" textLength="53" lengthAdjust="spacingAndGlyphs">13 Jun 20:00</text><rect x="879" y="926" width="1" height="3" fill="#000"/><text x="878" y="938" fill="#000" stroke="#000" stroke-width="0.12" font-size="9" text-anchor="start" textLength="53" lengthAdjust="spacingAndGlyphs">15 Jun 04:00</text><rect x="943" y="926" width="1" height="3" fill="#000"/><text x="942" y="938" fill="#000" stroke="#000" stroke-width="0.12" font-size="9" text-anchor="start" textLength="53" lengthAdjust="spacingAndGlyphs">16 Jun 12:00</text><rect x="1007" y="926" width="1" height="3" fill="#000"/><text x="1006" y="938" fill="#000" stroke="#000" stroke-width="0.12" font-size="9" text-anchor="start" textLength="53" lengthAdjust="spacingAndGlyphs">19 Jun 23:00</text><rect x="1071" y="926" width="1" height="3" fill="#000"/><text x="1070" y="938" fill="#000" stroke="#000" stroke-width="0.12" font-size="9" text-anchor="start" textLength="53" lengthAdjust="spacingAndGlyphs">21 Jun 04:00</text><rect x="1135" y="926" width="1" height="3" fill="#000"/><text x="1134" y="938" fill="#000" stroke="#000" stroke-width="0.12" font-size="9" text-anchor="start" textLength="53" lengthAdjust="spacingAndGlyphs">22 Jun 12:00</text><rect x="1199" y="926" width="1" height="3" fill="#000"/><text x="1198" y="938" fill="#000" stroke="#000" stroke-width="0.12" font-size="9" text-anchor="start" textLength="53" lengthAdjust="spacingAndGlyphs">23 Jun 20:00</text><rect x="1263" y="926" width="1" height="3" fill="#000"/><text x="1262" y="938" fill="#000" stroke="#000" stroke-width="0.12" font-size="9" text-anchor="start" textLength="53" lengthAdjust="spacingAndGlyphs">27 Jun 04:00</text><text x="37" y="938" fill="#000" stroke="#000" stroke-width="0.12" font-size="9" text-anchor="end" textLength="55" lengthAdjust="spacingAndGlyphs">20 May 2022</text><text x="-2" y="35.5" fill="#000" stroke="#000" stroke-width="0.12" font-size="9" text-anchor="start" textLength="200" lengthAdjust="spacingAndGlyphs">GBPJPY-,H4&#160;&#160;166.099 166.181 166.082 166.110</text><text x="-11.5" y="641.5" fill="#000" stroke="#000" stroke-width="0.12" font-size="9" text-anchor="start" textLength="126" lengthAdjust="spacingAndGlyphs">MACD(12,26,9) 0.1495 0.0942</text><text x="-13" y="799.7" fill="#000" stroke="#000" stroke-width="0.12" font-size="9" text-anchor="start" textLength="68" lengthAdjust="spacingAndGlyphs">RSI(14) 52.7951</text></svg>
</body></html>
